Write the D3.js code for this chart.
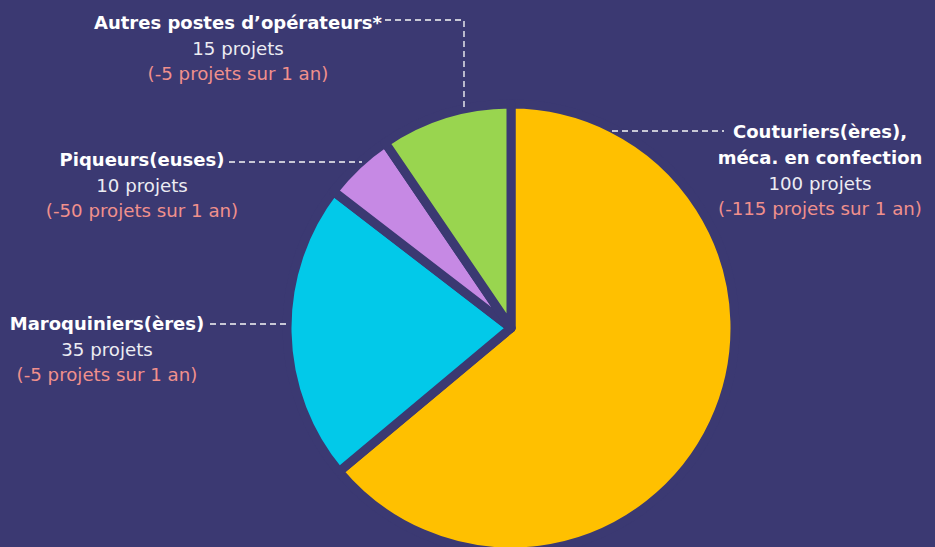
<!DOCTYPE html>
<html><head><meta charset="utf-8">
<script src="https://cdn.jsdelivr.net/npm/d3@7"></script>
<style>html,body{margin:0;padding:0;background:#3B3972;overflow:hidden}</style>
</head><body>
<svg id="chart" width="935" height="547"></svg>
<script>
// Categories (in drawing order, clockwise from 12 o'clock)
const categories = ["Couturiers(ères), méca. en confection", "Maroquiniers(ères)", "Piqueurs(euses)", "Autres postes d’opérateurs*"];
// Slice sizes (labels are rounded to 5)
const sliceValues = [101, 34, 8, 15];
// Displayed values
const projectLabels = [100, 35, 10, 15];
const yearChange = [-115, -5, -50, -5];
const titleLines = [["Couturiers(ères),", "méca. en confection"], ["Maroquiniers(ères)"], ["Piqueurs(euses)"], ["Autres postes d’opérateurs*"]];
const colors = ["#FFC000", "#02C9E9", "#C689E4", "#99D54F"];

const W = 935, H = 547, BG = "#3B3972";
const svg = d3.select("#chart");
svg.append("rect").attr("width", W).attr("height", H).attr("fill", BG);

const cx = 511, cy = 328, R = 224;
const pie = d3.pie().sort(null).value(d => d);
const arcs = pie(sliceValues);
const arc = d3.arc().innerRadius(0).outerRadius(R);

const g = svg.append("g").attr("transform", `translate(${cx},${cy})`);
g.selectAll("path").data(arcs).join("path")
  .attr("d", arc)
  .attr("fill", (d, i) => colors[i])
  .attr("stroke", BG).attr("stroke-width", 9).attr("stroke-linejoin", "round");

// label layout (anchor center x, first baseline y) and leader lines
const labelPos = [
  {x: 820, y: 138, leader: [[612, 131], [724, 131]]},
  {x: 107, y: 330, leader: [[210, 324], [289, 324]]},
  {x: 142, y: 166, leader: [[229, 162], [362, 162]]},
  {x: 238, y: 29, leader: [[385, 20], [464, 20], [464, 108]]}
];
const font = "'DejaVu Sans', sans-serif";
const lh = 25.5;
categories.forEach((c, i) => {
  const p = labelPos[i];
  const lines = titleLines[i];
  const t = svg.append("g");
  lines.forEach((ln, j) => {
    t.append("text").attr("x", p.x).attr("y", p.y + j * lh)
      .attr("text-anchor", "middle").attr("font-family", font)
      .attr("font-weight", 700).attr("font-size", 18).attr("fill", "#FFFFFF").text(ln);
  });
  const n = lines.length;
  t.append("text").attr("x", p.x).attr("y", p.y + n * lh + 0.5)
    .attr("text-anchor", "middle").attr("font-family", font)
    .attr("font-size", 18.2).attr("fill", "#ECECF2").text(`${projectLabels[i]} projets`);
  t.append("text").attr("x", p.x).attr("y", p.y + (n + 1) * lh)
    .attr("text-anchor", "middle").attr("font-family", font)
    .attr("font-size", 18.2).attr("fill", "#F0908C").text(`(${yearChange[i]} projets sur 1 an)`);
  svg.append("path").attr("d", d3.line()(p.leader))
    .attr("fill", "none").attr("stroke", "#C8C8D6").attr("stroke-width", 1.8)
    .attr("stroke-dasharray", "6,4");
});
</script>
</body></html>
